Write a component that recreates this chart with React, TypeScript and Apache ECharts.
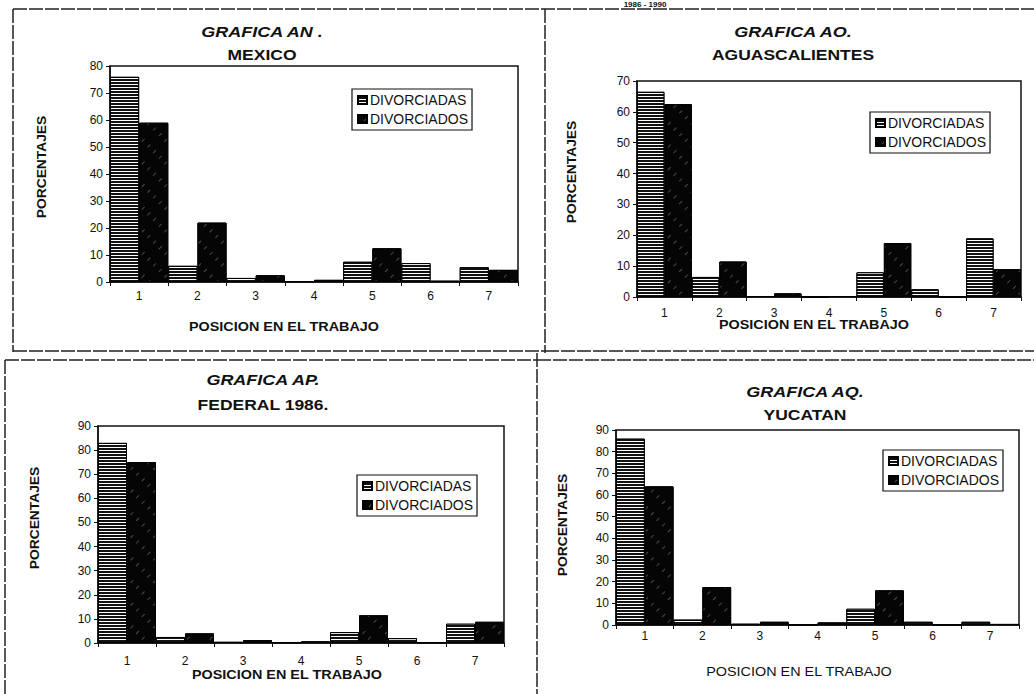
import React, { useEffect, useRef } from "react";
import * as echarts from "echarts";

const categories = ["1", "2", "3", "4", "5", "6", "7"];
const seriesNames = ["DIVORCIADAS", "DIVORCIADOS"];

const mexicoF = [76, 6, 1.5, 0.3, 7.5, 7, 5.5];
const mexicoM = [59, 22, 2.5, 0.8, 12.5, 0.5, 4.5];
const aguasF = [66.5, 6.5, 0.3, 0, 8, 2.5, 19];
const aguasM = [62.5, 11.5, 1.2, 0.3, 17.5, 0, 9];
const federalF = [83, 2.5, 0.5, 0.3, 4.5, 2, 8];
const federalM = [75, 4, 1.2, 0.7, 11.5, 0.3, 8.8];
const yucatanF = [86, 2.5, 0.6, 0.2, 7.5, 1.5, 1.5];
const yucatanM = [64, 17.5, 1.5, 1.2, 16, 0.2, 0.5];

const titles1 = ["GRAFICA AN .", "GRAFICA AO.", "GRAFICA AP.", "GRAFICA AQ."];
const titles2 = ["MEXICO", "AGUASCALIENTES", "FEDERAL 1986.", "YUCATAN"];
const yMaxes = [80, 70, 90, 90];
const yAxisName = "PORCENTAJES";
const xAxisName = "POSICION EN EL TRABAJO";
const topText = "1986 - 1990";

const FONT = "Liberation Sans, Arial, sans-serif";

const panels = [
  {
    f: mexicoF, m: mexicoM,
    grid: { left: 110, top: 66, width: 408, height: 216 },
    legend: { left: 352, top: 89 },
    title: { x: 262, y1: 32, y2: 55 },
    yName: { x: 42, y: 167 },
    xName: { x: 284, y: 327, bold: true },
    labelMargin: 8,
  },
  {
    f: aguasF, m: aguasM,
    grid: { left: 637, top: 81, width: 384, height: 216 },
    legend: { left: 870, top: 112 },
    title: { x: 793, y1: 32, y2: 55 },
    yName: { x: 572, y: 172 },
    xName: { x: 814, y: 325, bold: true },
    labelMargin: 10,
  },
  {
    f: federalF, m: federalM,
    grid: { left: 98, top: 426, width: 406, height: 217 },
    legend: { left: 357, top: 475 },
    title: { x: 263, y1: 380, y2: 405 },
    yName: { x: 35, y: 518 },
    xName: { x: 287, y: 675, bold: true },
    labelMargin: 12,
  },
  {
    f: yucatanF, m: yucatanM,
    grid: { left: 616, top: 430, width: 403, height: 195 },
    legend: { left: 883, top: 450 },
    title: { x: 805, y1: 392, y2: 415 },
    yName: { x: 563, y: 525 },
    xName: { x: 799, y: 672, bold: false },
    labelMargin: 5,
  },
];

const decalF = {
  symbol: "rect",
  symbolSize: 1,
  dashArrayX: [10, 0],
  dashArrayY: [1, 2],
  rotation: 0,
  color: "#ffffff",
};
const decalM = {
  symbol: "rect",
  symbolSize: 1,
  dashArrayX: [[4, 12]],
  dashArrayY: [1, 7],
  rotation: -Math.PI / 4,
  color: "rgba(255,255,255,0.28)",
};

function buildOption() {
  const grid: any[] = [];
  const xAxis: any[] = [];
  const yAxis: any[] = [];
  const series: any[] = [];
  const legend: any[] = [];
  const graphic: any[] = [];

  panels.forEach((p, i) => {
    grid.push({
      ...p.grid,
      show: true,
      borderColor: "#111",
      borderWidth: 1.5,
      backgroundColor: "transparent",
    });
    xAxis.push({
      type: "category",
      gridIndex: i,
      data: categories,
      boundaryGap: true,
      axisLine: { show: true, lineStyle: { color: "#111", width: 1.5 } },
      axisTick: { show: true, length: 4, lineStyle: { color: "#111" } },
      axisLabel: { color: "#111", fontSize: 12, fontFamily: FONT, margin: p.labelMargin },
      splitLine: { show: false },
    });
    yAxis.push({
      type: "value",
      gridIndex: i,
      min: 0,
      max: yMaxes[i],
      interval: 10,
      axisLine: { show: true, lineStyle: { color: "#111", width: 1.5 } },
      axisTick: { show: true, length: 4, lineStyle: { color: "#111" } },
      axisLabel: { color: "#111", fontSize: 12, fontFamily: FONT, margin: 7 },
      splitLine: { show: false },
    });
    series.push({
      name: seriesNames[0],
      type: "bar",
      xAxisIndex: i,
      yAxisIndex: i,
      data: p.f,
      barGap: "0%",
      barCategoryGap: "0%",
      itemStyle: { color: "#111", borderColor: "#000", borderWidth: 1, decal: decalF },
    });
    series.push({
      name: seriesNames[1],
      type: "bar",
      xAxisIndex: i,
      yAxisIndex: i,
      data: p.m,
      barGap: "0%",
      barCategoryGap: "0%",
      itemStyle: { color: "#050505", borderColor: "#000", borderWidth: 1, decal: decalM },
    });
    legend.push({
      data: seriesNames,
      orient: "vertical",
      left: p.legend.left,
      top: p.legend.top,
      padding: [4, 4, 4, 5],
      itemGap: 5,
      itemWidth: 9,
      itemHeight: 8,
      icon: "rect",
      borderColor: "#111",
      borderWidth: 1.2,
      backgroundColor: "#fff",
      selectedMode: false,
      textStyle: { fontSize: 14, fontFamily: FONT, color: "#111", padding: [0, 0, 0, -2] },
    });
    graphic.push({
      type: "text",
      x: p.title.x,
      y: p.title.y1,
      scaleX: 1.2,
      style: {
        text: titles1[i],
        fontSize: 15,
        fontWeight: "bold",
        fontStyle: "italic",
        fontFamily: FONT,
        fill: "#111",
        align: "center",
        verticalAlign: "middle",
      },
    });
    graphic.push({
      type: "text",
      x: p.title.x,
      y: p.title.y2,
      scaleX: 1.25,
      style: {
        text: titles2[i],
        fontSize: 14,
        fontWeight: "bold",
        fontFamily: FONT,
        fill: "#111",
        align: "center",
        verticalAlign: "middle",
      },
    });
    graphic.push({
      type: "text",
      x: p.yName.x,
      y: p.yName.y,
      rotation: Math.PI / 2,
      scaleX: 1.15,
      style: {
        text: yAxisName,
        fontSize: 12,
        fontWeight: "bold",
        fontFamily: FONT,
        fill: "#111",
        align: "center",
        verticalAlign: "middle",
      },
    });
    graphic.push({
      type: "text",
      x: p.xName.x,
      y: p.xName.y,
      scaleX: 1.2,
      style: {
        text: xAxisName,
        fontSize: 12,
        fontWeight: p.xName.bold ? "bold" : "normal",
        fontFamily: FONT,
        fill: "#111",
        align: "center",
        verticalAlign: "middle",
      },
    });
  });

  const lineStyle = { stroke: "#222", lineWidth: 1.5, lineDash: [14, 2] };
  const lines = [
    [13, 9, 1034, 9],
    [13, 9, 13, 352],
    [13, 351, 545, 351],
    [545, 9, 545, 353],
    [545, 351, 1034, 351],
    [5, 360, 537, 360],
    [537, 360, 1034, 360],
    [5, 360, 5, 694],
    [537, 353, 537, 694],
  ];
  lines.forEach(([x1, y1, x2, y2]) => {
    graphic.push({ type: "line", shape: { x1, y1, x2, y2 }, style: lineStyle, silent: true });
  });
  graphic.push({
    type: "text",
    x: 645,
    y: 0,
    style: {
      text: topText,
      fontSize: 8,
      fontWeight: "bold",
      fontFamily: FONT,
      fill: "#111",
      align: "center",
      verticalAlign: "top",
    },
  });

  return {
    animation: false,
    backgroundColor: "#fff",
    grid,
    xAxis,
    yAxis,
    series,
    legend,
    graphic,
  };
}

export default function App() {
  const ref = useRef<HTMLDivElement>(null);
  useEffect(() => {
    if (!ref.current) return;
    const chart = echarts.init(ref.current, null, { renderer: "svg" });
    chart.setOption(buildOption() as any);
    return () => chart.dispose();
  }, []);
  return (
    <div
      ref={ref}
      style={{ position: "absolute", left: 0, top: 0, width: 1034, height: 694 }}
    />
  );
}
